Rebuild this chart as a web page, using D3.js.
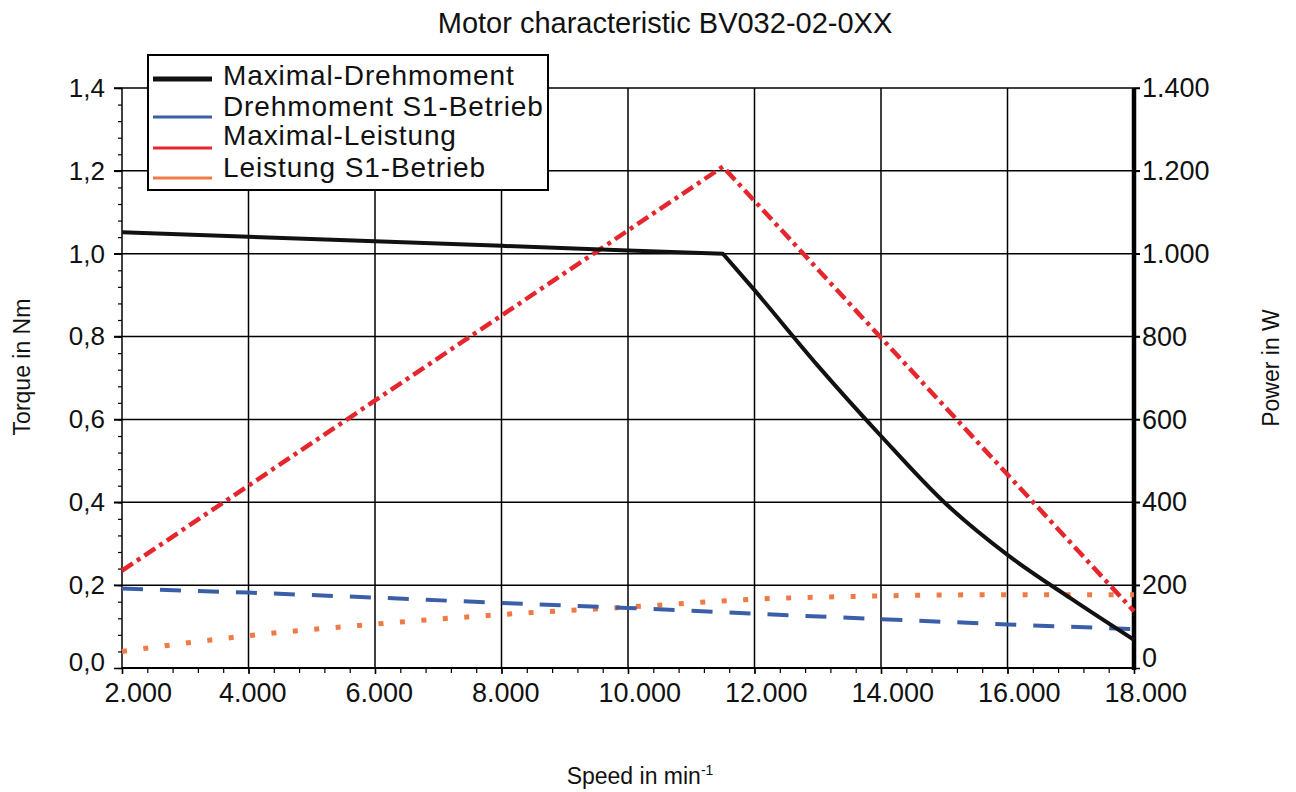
<!DOCTYPE html>
<html>
<head>
<meta charset="utf-8">
<script src="https://cdn.jsdelivr.net/npm/d3@7"></script>
<style>
  html, body { margin: 0; padding: 0; background: #fff; }
  svg { display: block; font-family: "Liberation Sans", Arial, sans-serif; }
</style>
</head>
<body>
<svg id="chart" width="1296" height="792"></svg>
<script>
// ---------- data ----------
const speedTicks = [2000, 4000, 6000, 8000, 10000, 12000, 14000, 16000, 18000];
const speedTickLabels = ["2.000", "4.000", "6.000", "8.000", "10.000", "12.000", "14.000", "16.000", "18.000"];
const torqueTicks = [0, 0.2, 0.4, 0.6, 0.8, 1.0, 1.2, 1.4];
const torqueTickLabels = ["0,0", "0,2", "0,4", "0,6", "0,8", "1,0", "1,2", "1,4"];
const powerTicks = [0, 200, 400, 600, 800, 1000, 1200, 1400];
const powerTickLabels = ["0", "200", "400", "600", "800", "1.000", "1.200", "1.400"];

// Maximal-Drehmoment (Nm): constant-torque part, then field-weakening part
const speedMaxTorque = [2000, 4000, 6000, 8000, 10000, 11500, 12000, 13000, 14000, 15000, 16000, 17000, 18000];
const maxTorque      = [1.052, 1.041, 1.030, 1.019, 1.008, 1.0, 0.912, 0.73, 0.56, 0.40, 0.273, 0.168, 0.068];
const cornerSpeed = 11500;

// Drehmoment S1-Betrieb (Nm) and Leistung S1-Betrieb (W)
const speedS1  = [2000, 4000, 6000, 8000, 10000, 12000, 14000, 16000, 18000];
const torqueS1 = [0.192, 0.182, 0.170, 0.157, 0.145, 0.131, 0.118, 0.105, 0.094];
const powerS1  = [40, 78, 106, 129, 147, 166, 174, 177, 177];

// Maximal-Leistung (W)
const speedMaxPower = [2000, 11500, 18000];
const maxPower      = [235, 1210, 137];

const legendLabels = ["Maximal-Drehmoment", "Drehmoment S1-Betrieb", "Maximal-Leistung", "Leistung S1-Betrieb"];
const legendColors = ["#111111", "#3a5fa8", "#e6262d", "#f07a45"];

// ---------- drawing ----------
const svg = d3.select("#chart");
const L = 122, R = 1134, T = 88, B = 668;

const x = d3.scaleLinear().domain([2000, 18000]).range([L, R]);
const yT = d3.scaleLinear().domain([0, 1.4]).range([B, T]);
const yP = d3.scaleLinear().domain([0, 1400]).range([B, T]);

// grid
const grid = svg.append("g").attr("stroke", "#000").attr("stroke-width", 1.5);
grid.selectAll("line.v").data(speedTicks.slice(1, -1)).join("line")
  .attr("x1", d => x(d)).attr("x2", d => x(d)).attr("y1", T).attr("y2", B);
grid.selectAll("line.h").data(torqueTicks.slice(1)).join("line")
  .attr("x1", L - 8).attr("x2", R + 6).attr("y1", d => yT(d)).attr("y2", d => yT(d));

// left axis
const leftAxis = d3.axisLeft(yT).tickValues(d3.range(0, 1.4001, 0.04)).tickSize(4).tickFormat("");
const gl = svg.append("g").attr("transform", `translate(${L},0)`).call(leftAxis);
gl.select(".domain").attr("stroke", "#000").attr("stroke-width", 1.5).attr("d", `M0,${T}V${B}`);
gl.selectAll(".tick line").attr("stroke", "#000").attr("stroke-width", 1.2);
const gl2 = svg.append("g").attr("transform", `translate(${L},0)`)
  .call(d3.axisLeft(yT).tickValues(torqueTicks).tickSize(8).tickFormat((d, i) => torqueTickLabels[i]));
gl2.select(".domain").remove();
gl2.selectAll(".tick line").attr("stroke", "#000").attr("stroke-width", 1.5);
gl2.selectAll(".tick text").attr("font-size", 26).attr("fill", "#111").attr("x", -17)
  .attr("font-family", "Liberation Sans, Arial, sans-serif")
  .attr("y", (d, i) => i === 0 ? -6 : 0);

// bottom axis
const gb = svg.append("g").attr("transform", `translate(0,${B})`)
  .call(d3.axisBottom(x).tickValues(d3.range(2000, 18001, 400)).tickSize(5).tickFormat(""));
gb.select(".domain").attr("stroke", "#000").attr("stroke-width", 2).attr("d", `M${L},0H${R}`);
gb.selectAll(".tick line").attr("stroke", "#000").attr("stroke-width", 1.2);
const gb2 = svg.append("g").attr("transform", `translate(0,${B})`)
  .call(d3.axisBottom(x).tickValues(speedTicks).tickSize(6).tickFormat((d, i) => speedTickLabels[i]));
gb2.select(".domain").remove();
gb2.selectAll(".tick line").attr("stroke", "#000").attr("stroke-width", 1.5);
gb2.selectAll(".tick text").attr("font-size", 27).attr("fill", "#111")
  .attr("font-family", "Liberation Sans, Arial, sans-serif")
  .attr("text-anchor", "start").attr("dy", null).attr("y", 34)
  .attr("x", (d, i) => i === 0 ? -18 : -30);

// right axis
const gr = svg.append("g").attr("transform", `translate(${R},0)`)
  .call(d3.axisRight(yP).tickValues(powerTicks).tickSize(6).tickFormat((d, i) => powerTickLabels[i]));
gr.select(".domain").attr("stroke", "#000").attr("stroke-width", 4.5).attr("d", `M0,${T}V${B + 2}`);
gr.selectAll(".tick line").attr("stroke", "#000").attr("stroke-width", 1.5);
gr.selectAll(".tick text").attr("font-size", 27).attr("fill", "#111").attr("x", 8)
  .attr("font-family", "Liberation Sans, Arial, sans-serif")
  .attr("y", (d, i) => i === 0 ? -10 : 0);

// series
const plot = svg.append("g").attr("fill", "none");
const mkLine = (xs, ys, yScale, curve) =>
  d3.line().curve(curve || d3.curveLinear).x((d, i) => x(xs[i])).y((d, i) => yScale(ys[i]))(ys);

plot.append("path").attr("d", mkLine(speedS1, powerS1, yP, d3.curveMonotoneX))
  .attr("stroke", legendColors[3]).attr("stroke-width", 5).attr("stroke-dasharray", "5 16.5");
plot.append("path").attr("d", mkLine(speedS1, torqueS1, yT))
  .attr("stroke", legendColors[1]).attr("stroke-width", 4).attr("stroke-dasharray", "21 17");
plot.append("path").attr("d", mkLine(speedMaxPower, maxPower, yP))
  .attr("stroke", legendColors[2]).attr("stroke-width", 4.5).attr("stroke-dasharray", "13 5 4 5");

const ci = speedMaxTorque.indexOf(cornerSpeed);
const flatPart = mkLine(speedMaxTorque.slice(0, ci + 1), maxTorque.slice(0, ci + 1), yT);
const dropPart = mkLine(speedMaxTorque.slice(ci), maxTorque.slice(ci), yT, d3.curveMonotoneX);
plot.append("path").attr("d", flatPart + dropPart.replace(/^M/, "L"))
  .attr("stroke", legendColors[0]).attr("stroke-width", 4).attr("stroke-linejoin", "round");

// legend
const lg = svg.append("g");
lg.append("rect").attr("x", 148).attr("y", 55).attr("width", 400).attr("height", 135)
  .attr("fill", "#fff").attr("stroke", "#000").attr("stroke-width", 2);
const legendLineY = [79, 117, 148, 178];
const legendTextY = [85, 116, 145, 177];
legendLabels.forEach((lab, i) => {
  lg.append("line").attr("x1", 153).attr("x2", 212).attr("y1", legendLineY[i]).attr("y2", legendLineY[i])
    .attr("stroke", legendColors[i]).attr("stroke-width", i === 0 ? 5 : 3);
  lg.append("text").attr("x", 223).attr("y", legendTextY[i]).attr("font-size", 28)
    .attr("letter-spacing", 0.9).attr("fill", "#111").text(lab);
});

// titles
svg.append("text").attr("x", 665).attr("y", 33).attr("text-anchor", "middle")
  .attr("font-size", 29).attr("fill", "#111").text("Motor characteristic BV032-02-0XX");
svg.append("text").attr("transform", "translate(30,367) rotate(-90)").attr("text-anchor", "middle")
  .attr("font-size", 23).attr("fill", "#111").text("Torque in Nm");
svg.append("text").attr("transform", "translate(1279,368) rotate(-90)").attr("text-anchor", "middle")
  .attr("font-size", 23).attr("fill", "#111").text("Power in W");
const xt = svg.append("text").attr("x", 640).attr("y", 784).attr("text-anchor", "middle")
  .attr("font-size", 23).attr("fill", "#111");
xt.append("tspan").text("Speed in min");
xt.append("tspan").attr("font-size", 14).attr("dy", -9).text("-1");
</script>
</body>
</html>
